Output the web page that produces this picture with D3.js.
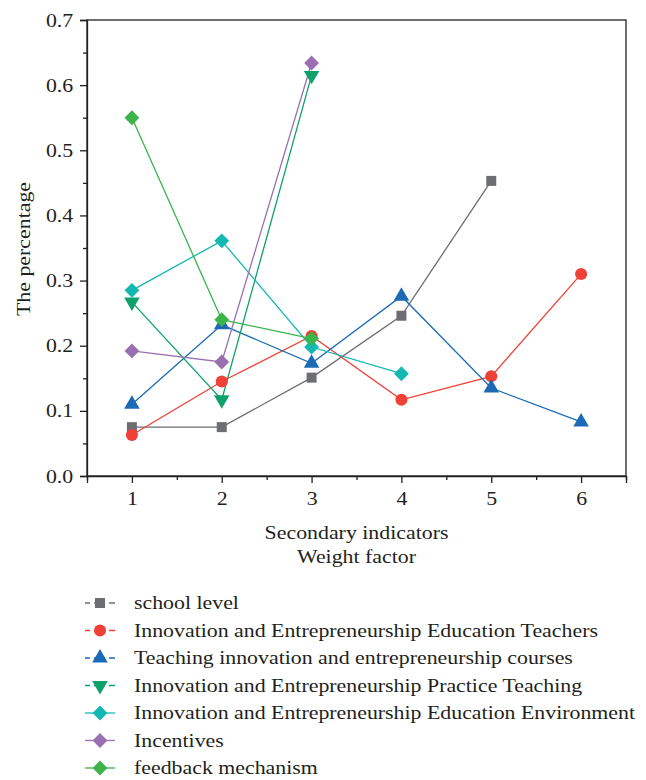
<!DOCTYPE html>
<html>
<head>
<meta charset="utf-8">
<script src="https://cdn.jsdelivr.net/npm/d3@7"></script>
<style>
  body { margin: 0; background: #fff; }
  text { font-family: "Liberation Serif", serif; fill: #231f20; }
</style>
</head>
<body>
<div id="chart"></div>
<script>
// data
var xValues = [1, 2, 3, 4, 5, 6];
var schoolLevel = [0.075, 0.075, 0.151, 0.246, 0.453];
var eduTeachers = [0.063, 0.145, 0.215, 0.117, 0.153, 0.310];
var courses = [0.110, 0.232, 0.173, 0.276, 0.135, 0.083];
var practiceTeaching = [0.267, 0.117, 0.615];
var eduEnvironment = [0.285, 0.361, 0.198, 0.157];
var incentives = [0.192, 0.175, 0.634];
var feedback = [0.550, 0.240, 0.211];
var seriesNames = [
  "school level",
  "Innovation and Entrepreneurship Education Teachers",
  "Teaching innovation and entrepreneurship courses",
  "Innovation and Entrepreneurship Practice Teaching",
  "Innovation and Entrepreneurship Education Environment",
  "Incentives",
  "feedback mechanism"
];
var yTicks = [0, 0.1, 0.2, 0.3, 0.4, 0.5, 0.6, 0.7];

var series = [
  {name: seriesNames[0], values: schoolLevel, color: "#6d6e71", shape: "square"},
  {name: seriesNames[1], values: eduTeachers, color: "#ef4136", shape: "circle"},
  {name: seriesNames[2], values: courses, color: "#1c6ab5", shape: "up"},
  {name: seriesNames[3], values: practiceTeaching, color: "#0ea26a", shape: "down"},
  {name: seriesNames[4], values: eduEnvironment, color: "#14b8b2", shape: "diamond"},
  {name: seriesNames[5], values: incentives, color: "#9a70b2", shape: "diamond"},
  {name: seriesNames[6], values: feedback, color: "#3bb44a", shape: "diamond"}
];

var W = 646, H = 780;
var FS = "19px";
var STRETCH = "scale(1.15,1)";   // the reference type is set wide
var margin = {top: 20, right: 20, bottom: 304, left: 87},
    width = W - margin.left - margin.right,
    height = H - margin.top - margin.bottom;

var svg = d3.select("#chart").append("svg")
  .attr("width", W).attr("height", H);

var g = svg.append("g")
  .attr("transform", "translate(" + margin.left + "," + margin.top + ")");

var x = d3.scaleLinear().domain([0.5, 6.5]).range([0, width]);
var y = d3.scaleLinear().domain([0, 0.7]).range([height, 0]);

// frame
g.append("rect")
  .attr("width", width).attr("height", height)
  .attr("fill", "none").attr("stroke", "#231f20").attr("stroke-width", 1.3);

// x axis, major + minor ticks
var xAxis = d3.axisBottom(x).tickValues(xValues).tickSize(7).tickPadding(9).tickFormat(d3.format("d"));
var xMinor = d3.axisBottom(x).tickValues([0.5, 1.5, 2.5, 3.5, 4.5, 5.5, 6.5]).tickSize(4).tickFormat("");
g.append("g").attr("transform", "translate(0," + height + ")").call(xMinor)
  .call(function(s){ s.select(".domain").remove(); });
g.append("g").attr("class", "x-axis").attr("transform", "translate(0," + height + ")").call(xAxis);

var yAxis = d3.axisLeft(y).tickValues(yTicks).tickSize(7).tickPadding(5).tickFormat(d3.format(".1f"));
var yMinor = d3.axisLeft(y).tickValues(d3.range(0.05, 0.7, 0.1)).tickSize(4).tickFormat("");
g.append("g").call(yMinor).call(function(s){ s.select(".domain").remove(); });
g.append("g").attr("class", "y-axis").call(yAxis);

g.selectAll(".tick line").attr("stroke", "#231f20").attr("stroke-width", 1.3);
g.selectAll(".domain").attr("stroke", "#231f20").attr("stroke-width", 1.3);
g.selectAll(".tick text")
  .style("font-size", FS).style("fill", "#231f20")
  .style("font-family", "Liberation Serif, serif")
  .attr("transform", STRETCH);

// axis titles
g.append("text")
  .attr("transform", "translate(" + (width / 2) + "," + (height + 63) + ") " + STRETCH)
  .attr("text-anchor", "middle").style("font-size", FS)
  .text("Secondary indicators");
g.append("text")
  .attr("transform", "translate(" + (width / 2) + "," + (height + 87) + ") " + STRETCH)
  .attr("text-anchor", "middle").style("font-size", FS)
  .text("Weight factor");
g.append("text")
  .attr("transform", "translate(" + (-57) + "," + (height / 2 + 1) + ") rotate(-90) " + STRETCH)
  .attr("text-anchor", "middle").style("font-size", FS)
  .text("The percentage");

function symbolFor(shape) {
  if (shape === "square") return d3.symbol().type(d3.symbolSquare).size(100);
  if (shape === "circle") return d3.symbol().type(d3.symbolCircle).size(115);
  if (shape === "up" || shape === "down") return d3.symbol().type(d3.symbolTriangle).size(105);
  return d3.symbol().type(d3.symbolSquare).size(110);
}
function rot(shape) {
  if (shape === "down") return " rotate(180)";
  if (shape === "diamond") return " rotate(45)";
  return "";
}

var line = d3.line()
  .x(function(d, i){ return x(xValues[i]); })
  .y(function(d){ return y(d); });

series.forEach(function(s) {
  g.append("path")
    .attr("d", line(s.values))
    .attr("fill", "none")
    .attr("stroke", s.color)
    .attr("stroke-width", 1.3);
});

series.forEach(function(s) {
  g.selectAll(null)
    .data(s.values)
    .enter()
    .append("path")
    .attr("d", symbolFor(s.shape)())
    .attr("transform", function(d, i){ return "translate(" + x(xValues[i]) + "," + y(d) + ")" + rot(s.shape); })
    .attr("fill", s.color);
});

// legend
var legend = svg.append("g").attr("transform", "translate(85,603)");
var rowH = 27.5;
series.forEach(function(s, i) {
  var row = legend.append("g").attr("transform", "translate(0," + (i * rowH) + ")");
  row.append("line").attr("x1", 0).attr("x2", 30).attr("y1", 0).attr("y2", 0)
    .attr("stroke", s.color).attr("stroke-width", 1.3)
    .attr("stroke-dasharray", i < 4 ? "5,4,11,4,6" : null);
  row.append("path")
    .attr("d", symbolFor(s.shape)())
    .attr("transform", "translate(15,0)" + rot(s.shape))
    .attr("fill", s.color);
  row.append("text")
    .attr("transform", "translate(49,6) " + STRETCH)
    .style("font-size", FS)
    .text(s.name);
});
</script>
</body>
</html>
